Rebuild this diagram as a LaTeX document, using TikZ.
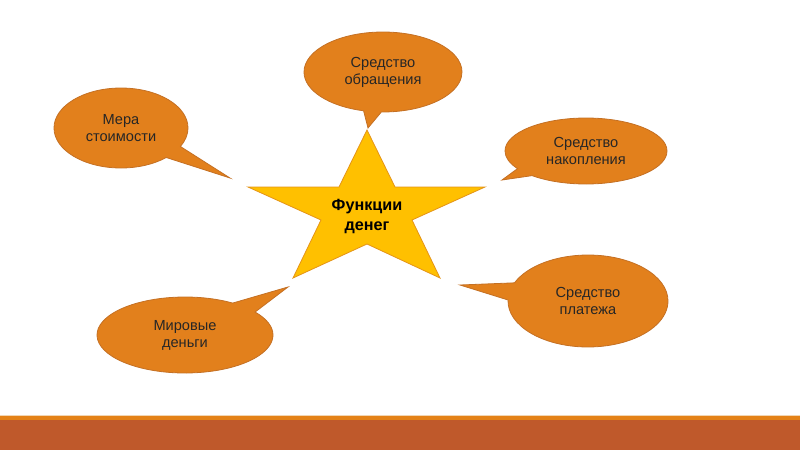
\documentclass[tikz,border=0pt]{standalone}
\usepackage{fontspec}
\setmainfont{Liberation Sans}
\usetikzlibrary{shapes.callouts}
\definecolor{bubble}{RGB}{226,128,28}
\definecolor{bubbleedge}{RGB}{196,112,36}
\definecolor{gold}{RGB}{255,192,0}
\definecolor{goldedge}{RGB}{228,148,24}
\definecolor{rust}{RGB}{191,89,43}
\definecolor{stripe}{RGB}{228,130,24}
\definecolor{pale}{RGB}{242,214,180}
\tikzset{
  bubble/.style={ellipse callout,draw=bubbleedge,fill=bubble,line width=0.8pt,
    align=center,inner sep=0pt,text=black!85,font=\fontsize{14.6}{17}\selectfont,
    callout pointer arc=#1},
  bubble/.default=20,
  starlabel/.style={align=center,text=black,font=\bfseries\fontsize{16.2}{20}\selectfont},
}
\begin{document}
\begin{tikzpicture}[x=1pt,y=-1pt]
  \useasboundingbox (0,0) rectangle (800,450);
  % star in the middle
  \draw[fill=gold,draw=goldedge,line width=0.8pt,line join=miter]
    (367,130) -- (395,187) -- (485,187) -- (412,220) -- (440,278) -- (367,244)
    -- (293,278) -- (321,220) -- (248,187) -- (339,187) -- cycle;
  \node[starlabel] (center) at (367,216) {Функции\\денег};
  % tips of the tails
  \coordinate (tipMeasure) at (230,178);
  \coordinate (tipCirc) at (368,128);
  \coordinate (tipSave) at (502,180);
  \coordinate (tipPay) at (460,285);
  \coordinate (tipWorld) at (288,287);
  % callouts
  \node[bubble=20,minimum width=134pt,minimum height=80pt,callout absolute pointer={(tipMeasure)}]
    (measure) at (121,128) {Мера\\стоимости};
  \node[bubble=13,minimum width=158pt,minimum height=80pt,callout absolute pointer={(tipCirc)}]
    (circ) at (383,72) {Средство\\обращения};
  \node[bubble=16,minimum width=162pt,minimum height=66pt,callout absolute pointer={(tipSave)}]
    (save) at (586,151) {Средство\\накопления};
  \node[bubble=22,minimum width=160pt,minimum height=92pt,callout absolute pointer={(tipPay)}]
    (pay) at (588,301) {Средство\\платежа};
  \node[bubble=20,minimum width=176pt,minimum height=76pt,callout absolute pointer={(tipWorld)}]
    (world) at (185,335) {Мировые\\деньги};
  % bottom band
  \fill[pale] (0,414.5) rectangle (800,416);
  \fill[stripe] (0,416) rectangle (800,420);
  \fill[rust] (0,420) rectangle (800,450);
\end{tikzpicture}
\end{document}
